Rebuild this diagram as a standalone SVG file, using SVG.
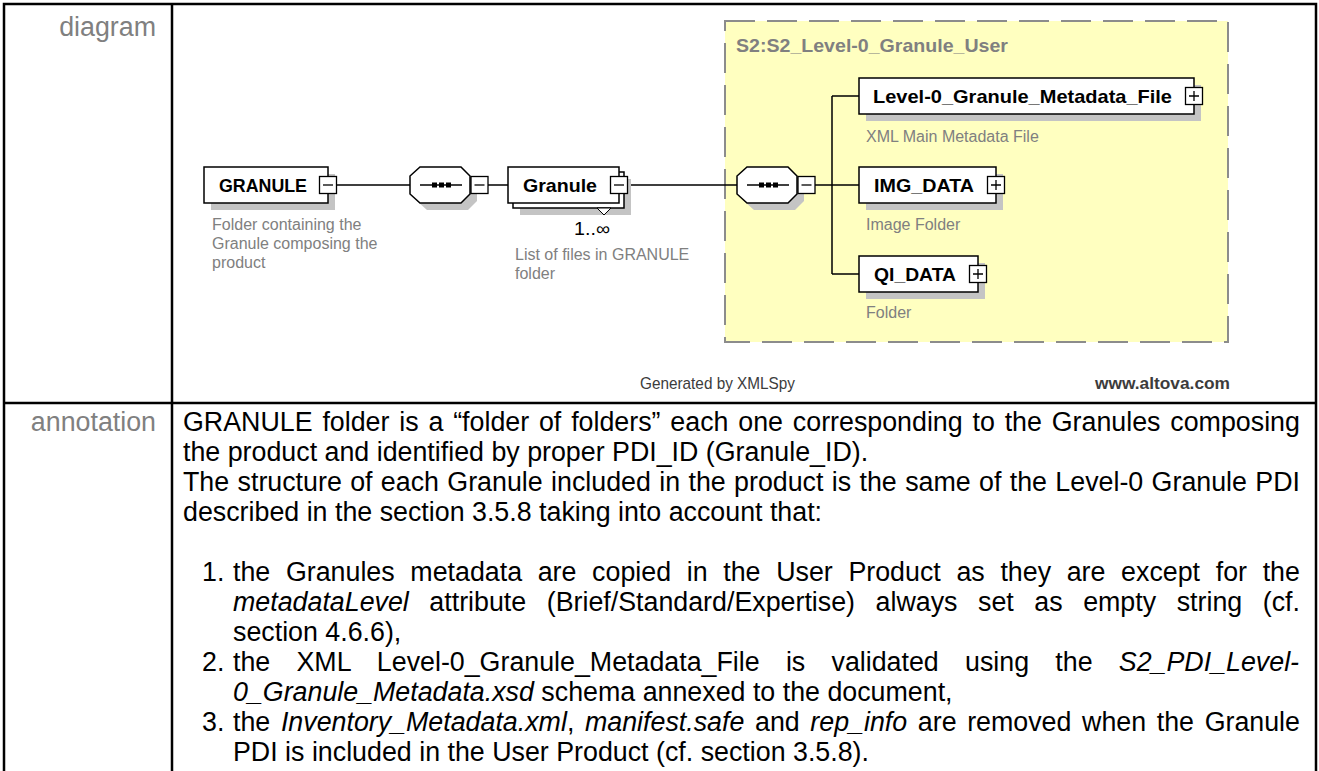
<svg xmlns="http://www.w3.org/2000/svg" width="1319" height="771" viewBox="0 0 1319 771">
<defs>
<style>
.bd{fill:none;stroke:#000;stroke-width:2.5}
.lbl{font-family:"Liberation Sans",Arial,sans-serif;font-size:26.8px;fill:#808080}
.ann{font-family:"Liberation Sans",Arial,sans-serif;font-size:26.8px;fill:#000}
.box{fill:#fff;stroke:#000;stroke-width:1.5}
.sh{fill:#c4c4c4}
.nm{font-family:"Liberation Sans",Arial,sans-serif;font-weight:bold;font-size:18.5px;fill:#000}
.ds{font-family:"Liberation Sans",Arial,sans-serif;font-size:16px;fill:#808080}
.ln{fill:none;stroke:#000;stroke-width:1.5}
.sq{fill:#fff;stroke:#000;stroke-width:1.3}
.sg{fill:none;stroke:#000;stroke-width:1.3}
.ft{font-family:"Liberation Sans",Arial,sans-serif;font-size:17px;fill:#3c3c3c}
.it{font-style:italic}
</style>
</defs>
<rect x="0" y="0" width="1319" height="771" fill="#fff"/>

<g id="table">
<path class="bd" d="M4,771 V4 H1316 V771 M172,4 V771 M4,403 H1316"/>
<text class="lbl" x="156" y="36" text-anchor="end">diagram</text>
<text class="lbl" x="156" y="431" text-anchor="end">annotation</text>
</g>

<g id="group-S2_Level-0_Granule_User">
<rect x="725" y="21" width="503" height="321" fill="#ffffc0" stroke="#8c8c8c" stroke-width="2" stroke-dasharray="30 12"/>
<text class="nm" x="736" y="52" style="fill:#808080" textLength="272" lengthAdjust="spacingAndGlyphs">S2:S2_Level-0_Granule_User</text>
</g>

<g id="connectors">
<path class="ln" d="M337,185 H410 M488,185 H508 M628,185 H737 M815,185 H859 M832,96 V274 M832,96 H859 M832,274 H859"/>
</g>

<g id="node-GRANULE">
<rect class="sh" x="211" y="174" width="124" height="36"/>
<rect class="box" x="204" y="167" width="124" height="36"/>
<text class="nm" x="219" y="192" textLength="88" lengthAdjust="spacingAndGlyphs">GRANULE</text>
<rect class="sq" x="319.5" y="176.5" width="17" height="17"/>
<path class="sg" d="M323,185 H333"/>
<text class="ds" x="212" y="230">Folder containing the</text>
<text class="ds" x="212" y="249">Granule composing the</text>
<text class="ds" x="212" y="268">product</text>
</g>

<g id="node-sequence-1">
<path class="sh" d="M427,174 H468 L477,183 V201 L468,210 H427 L417,201 V183 Z"/>
<path class="box" d="M420,167 H461 L470,176 V194 L461,203 H420 L410,194 V176 Z"/>
<path class="ln" d="M420,185 H462"/>
<rect x="432" y="182.5" width="5" height="5" fill="#000"/>
<rect x="439" y="182.5" width="5" height="5" fill="#000"/>
<rect x="446" y="182.5" width="5" height="5" fill="#000"/>
<rect class="sq" x="471" y="176.5" width="17" height="17"/>
<path class="sg" d="M474.5,185 H484.5"/>
</g>

<g id="node-Granule">
<rect class="sh" x="520" y="179" width="111" height="36"/>
<rect class="box" x="513" y="172" width="111" height="36"/>
<rect class="box" x="508" y="167" width="111" height="36"/>
<text class="nm" x="523" y="192" textLength="74" lengthAdjust="spacingAndGlyphs">Granule</text>
<rect class="sq" x="610.5" y="176.5" width="17" height="17"/>
<path class="sg" d="M614,185 H624"/>
<polygon points="597,208 604,215 611,208" fill="#fff" stroke="#000" stroke-width="1"/>
<text x="574" y="235" font-family="Liberation Sans, Arial, sans-serif" font-size="18" fill="#000" textLength="36" lengthAdjust="spacingAndGlyphs">1..∞</text>
<text class="ds" x="515" y="260">List of files in GRANULE</text>
<text class="ds" x="515" y="279">folder</text>
</g>

<g id="node-sequence-2">
<path class="sh" d="M754,174 H795 L804,183 V201 L795,210 H754 L744,201 V183 Z"/>
<path class="box" d="M747,167 H788 L797,176 V194 L788,203 H747 L737,194 V176 Z"/>
<path class="ln" d="M747,185 H789"/>
<rect x="759" y="182.5" width="5" height="5" fill="#000"/>
<rect x="766" y="182.5" width="5" height="5" fill="#000"/>
<rect x="773" y="182.5" width="5" height="5" fill="#000"/>
<rect class="sq" x="798" y="176.5" width="17" height="17"/>
<path class="sg" d="M801.5,185 H811.5"/>
</g>

<g id="node-Level-0_Granule_Metadata_File">
<rect class="sh" x="866" y="85" width="335" height="36"/>
<rect class="box" x="859" y="78" width="335" height="36"/>
<text class="nm" x="873" y="103" textLength="299" lengthAdjust="spacingAndGlyphs">Level-0_Granule_Metadata_File</text>
<rect class="sq" x="1185.5" y="87.5" width="17" height="17"/>
<path class="sg" d="M1189,96 H1199 M1194,91 V101"/>
<text class="ds" x="866" y="142">XML Main Metadata File</text>
</g>

<g id="node-IMG_DATA">
<rect class="sh" x="866" y="174" width="137" height="36"/>
<rect class="box" x="859" y="167" width="137" height="36"/>
<text class="nm" x="874" y="192" textLength="100" lengthAdjust="spacingAndGlyphs">IMG_DATA</text>
<rect class="sq" x="987.5" y="176.5" width="17" height="17"/>
<path class="sg" d="M991,185 H1001 M996,180 V190"/>
<text class="ds" x="866" y="230">Image Folder</text>
</g>

<g id="node-QI_DATA">
<rect class="sh" x="866" y="263" width="119" height="36"/>
<rect class="box" x="859" y="256" width="119" height="36"/>
<text class="nm" x="874" y="281" textLength="82" lengthAdjust="spacingAndGlyphs">QI_DATA</text>
<rect class="sq" x="969.5" y="265.5" width="17" height="17"/>
<path class="sg" d="M973,274 H983 M978,269 V279"/>
<text class="ds" x="866" y="318">Folder</text>
</g>

<g id="footer">
<text class="ft" x="640" y="389" textLength="155" lengthAdjust="spacingAndGlyphs">Generated by XMLSpy</text>
<text class="ft" x="1095" y="389" font-weight="bold" textLength="135" lengthAdjust="spacingAndGlyphs">www.altova.com</text>
</g>

<g id="annotation">
<text class="ann" x="183" y="431" word-spacing="2.39">GRANULE folder is a “folder of folders” each one corresponding to the Granules composing</text>
<text class="ann" x="183" y="461">the product and identified by proper PDI_ID (Granule_ID).</text>
<text class="ann" x="183" y="491" word-spacing="0.92">The structure of each Granule included in the product is the same of the Level-0 Granule PDI</text>
<text class="ann" x="183" y="521">described in the section 3.5.8 taking into account that:</text>
<text class="ann" x="202" y="581">1.</text>
<text class="ann" x="233" y="581" word-spacing="8.22">the Granules metadata are copied in the User Product as they are except for the</text>
<text class="ann" x="233" y="611" word-spacing="13.1"><tspan class="it">metadataLevel</tspan> attribute (Brief/Standard/Expertise) always set as empty string (cf.</text>
<text class="ann" x="233" y="641">section 4.6.6),</text>
<text class="ann" x="202" y="671">2.</text>
<text class="ann" x="233" y="671" word-spacing="18.79">the XML Level-0_Granule_Metadata_File is validated using the <tspan class="it">S2_PDI_Level-</tspan></text>
<text class="ann" x="233" y="701"><tspan class="it">0_Granule_Metadata.xsd</tspan> schema annexed to the document,</text>
<text class="ann" x="202" y="731">3.</text>
<text class="ann" x="233" y="731" word-spacing="3.19">the <tspan class="it">Inventory_Metadata.xml</tspan>, <tspan class="it">manifest.safe</tspan> and <tspan class="it">rep_info</tspan> are removed when the Granule</text>
<text class="ann" x="233" y="761">PDI is included in the User Product (cf. section 3.5.8).</text>
</g>
</svg>
